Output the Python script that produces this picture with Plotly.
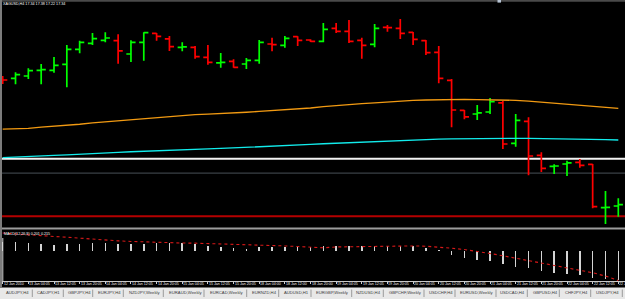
import plotly.graph_objects as go

# ---------------- data ----------------
symbol_title = "XAGUSD,H4 17.34 17.38 17.22 17.34"
macd_title = "MACD(12,26,9) 0.201 0.215"

bar_idx = list(range(49))

opens = [18.417, 18.425, 18.445, 18.493, 18.493, 18.544, 18.672, 18.723, 18.748, 18.745,
         18.632, 18.731, 18.808, 18.760, 18.689, 18.689, 18.604, 18.556, 18.570, 18.547,
         18.578, 18.717, 18.706, 18.779, 18.751, 18.740, 18.850, 18.825, 18.748, 18.714,
         18.859, 18.850, 18.816, 18.745, 18.646, 18.408, 18.153, 18.122, 18.139, 18.216,
         17.873, 18.060, 17.771, 17.677, 17.697, 17.711, 17.694, 17.326, 17.340]
highs = [18.445, 18.476, 18.510, 18.547, 18.607, 18.709, 18.745, 18.811, 18.816, 18.799,
         18.748, 18.816, 18.811, 18.785, 18.731, 18.700, 18.709, 18.641, 18.587, 18.598,
         18.751, 18.771, 18.785, 18.782, 18.757, 18.896, 18.896, 18.921, 18.771, 18.887,
         18.879, 18.930, 18.819, 18.751, 18.700, 18.420, 18.156, 18.199, 18.258, 18.233,
         18.122, 18.094, 17.796, 17.694, 17.725, 17.740, 17.697, 17.468, 17.405]
lows = [18.377, 18.374, 18.420, 18.374, 18.473, 18.349, 18.638, 18.709, 18.731, 18.550,
        18.564, 18.575, 18.745, 18.658, 18.655, 18.592, 18.541, 18.516, 18.516, 18.505,
        18.550, 18.655, 18.686, 18.700, 18.734, 18.731, 18.811, 18.726, 18.592, 18.689,
        18.822, 18.760, 18.709, 18.624, 18.383, 18.009, 18.077, 18.071, 18.122, 17.825,
        17.844, 17.601, 17.629, 17.612, 17.595, 17.666, 17.320, 17.187, 17.249]
closes = [18.411, 18.456, 18.490, 18.499, 18.536, 18.672, 18.731, 18.762, 18.768, 18.658,
          18.731, 18.814, 18.782, 18.694, 18.692, 18.609, 18.561, 18.561, 18.519, 18.578,
          18.731, 18.711, 18.765, 18.748, 18.740, 18.842, 18.825, 18.740, 18.706, 18.850,
          18.856, 18.808, 18.757, 18.643, 18.425, 18.156, 18.097, 18.131, 18.227, 17.867,
          18.068, 17.765, 17.660, 17.680, 17.706, 17.686, 17.334, 17.329, 17.351]

ma_orange = [17.993, 17.996, 18.000, 18.010, 18.017, 18.026, 18.035, 18.046, 18.055, 18.065,
             18.075, 18.083, 18.091, 18.098, 18.108, 18.117, 18.121, 18.125, 18.131, 18.137,
             18.144, 18.150, 18.157, 18.164, 18.173, 18.184, 18.194, 18.202, 18.210, 18.217,
             18.225, 18.231, 18.237, 18.241, 18.244, 18.246, 18.246, 18.245, 18.244, 18.242,
             18.238, 18.231, 18.223, 18.216, 18.207, 18.199, 18.191, 18.181, 18.170]
ma_cyan = [17.751, 17.757, 17.762, 17.767, 17.770, 17.774, 17.778, 17.782, 17.787, 17.795,
           17.801, 17.806, 17.810, 17.814, 17.819, 17.824, 17.825, 17.829, 17.833, 17.838,
           17.842, 17.847, 17.853, 17.858, 17.863, 17.869, 17.874, 17.879, 17.884, 17.889,
           17.895, 17.899, 17.904, 17.906, 17.909, 17.911, 17.913, 17.915, 17.915, 17.915,
           17.915, 17.915, 17.914, 17.913, 17.911, 17.910, 17.907, 17.904, 17.901]

level_prices = [17.741, 17.620, 17.252]
level_colors = ["#f2f2f2", "#3a4046", "#b40000"]
level_widths = [2, 1.2, 2]

macd_hist = [0.062, 0.064, 0.053, 0.048, 0.041, 0.048, 0.048, 0.057, 0.057, 0.048,
             0.048, 0.048, 0.053, 0.053, 0.053, 0.048, 0.037, 0.026, 0.019, 0.014,
             0.030, 0.030, 0.030, 0.030, 0.030, 0.035, 0.035, 0.035, 0.035, 0.035,
             0.035, 0.035, 0.035, 0.023, 0.009, -0.028, -0.046, -0.062, -0.069, -0.092,
             -0.108, -0.119, -0.138, -0.152, -0.159, -0.169, -0.183, -0.193, -0.201]
macd_signal = [0.124, 0.117, 0.112, 0.105, 0.100, 0.095, 0.088, 0.081, 0.076, 0.070,
               0.066, 0.062, 0.059, 0.057, 0.055, 0.054, 0.052, 0.050, 0.048, 0.045,
               0.041, 0.039, 0.035, 0.031, 0.024, 0.022, 0.028, 0.030, 0.032, 0.033,
               0.035, 0.035, 0.035, 0.033, 0.028, 0.019, 0.010, -0.001, -0.017, -0.033,
               -0.049, -0.065, -0.081, -0.097, -0.115, -0.132, -0.150, -0.173, -0.204]

time_label_idx = list(range(0, 49, 2))
time_labels = ["12 Jan 2010", "13 Jan 04:05", "13 Jan 12:05", "13 Jan 20:05", "14 Jan 04:05",
               "14 Jan 12:05", "14 Jan 20:05", "15 Jan 04:05", "15 Jan 12:05", "15 Jan 20:05",
               "18 Jan 04:00", "18 Jan 12:00", "18 Jan 20:00", "19 Jan 04:05", "19 Jan 12:05",
               "19 Jan 20:05", "20 Jan 04:05", "20 Jan 12:05", "20 Jan 20:05", "21 Jan 04:05",
               "21 Jan 12:05", "21 Jan 20:05", "22 Jan 04:05", "22 Jan 12:05", "22 Jan 20:05"]

tab_names = ["AUDJPY,H4", "CADJPY,H1", "GBPJPY,H4", "EURJPY,H4", "NZDJPY,Weekly",
             "EURAUD,Weekly", "EURCAD,Weekly", "EURNZD,H4", "AUDUSD,H1", "EURGBP,Weekly",
             "NZDUSD,H4", "GBPCHF,Weekly", "USDCHF,H4", "EURUSD,Weekly", "USDCAD,H4",
             "GBPUSD,H4", "CHFJPY,H4", "USDJPY,H4"]
tab_left_px = [5, 36, 66.7, 97.3, 128.3, 167.7, 209.3, 250.7, 282.7, 315,
               355, 387.7, 428.3, 459.3, 499.3, 531.7, 564, 595]
tab_sep_px = [32.3, 63.3, 92.7, 123.3, 163.3, 204, 246.7, 278.7, 311, 351.7,
              383.3, 424, 455, 496, 527.3, 559.3, 590.7, 622.3]

# ---------------- layout helpers ----------------
W, H = 625, 299
FONT = "Liberation Sans, Arial, sans-serif"


def fx(p):
    return p / W


def fy(p):
    return 1 - p / H


fig = go.Figure()

fig.add_trace(go.Scatter(x=bar_idx, y=ma_orange, mode="lines",
                         line=dict(color="#f29a12", width=1.3), hoverinfo="skip"))
fig.add_trace(go.Scatter(x=bar_idx, y=ma_cyan, mode="lines",
                         line=dict(color="#12ecec", width=1.3), hoverinfo="skip"))
fig.add_trace(go.Ohlc(x=bar_idx, open=opens, high=highs, low=lows, close=closes,
                      increasing=dict(line=dict(color="#00ff00", width=1.7)),
                      decreasing=dict(line=dict(color="#ff0000", width=1.7)),
                      tickwidth=0.36, hoverinfo="skip"))
fig.add_trace(go.Bar(x=bar_idx, y=macd_hist, yaxis="y2", width=0.12,
                     marker=dict(color="#d4d4d4", line=dict(width=0)), hoverinfo="skip"))
fig.add_trace(go.Scatter(x=bar_idx, y=macd_signal, yaxis="y2", mode="lines",
                         line=dict(color="#d81818", width=1.1, dash="dot"), hoverinfo="skip"))

shapes = []
for v, c, w in zip(level_prices, level_colors, level_widths):
    shapes.append(dict(type="line", xref="paper", x0=0, x1=1, yref="y", y0=v, y1=v,
                       line=dict(color=c, width=w), layer="below"))
# frame pieces
shapes.append(dict(type="rect", xref="paper", yref="paper", x0=0, x1=1, y0=fy(1.8), y1=1,
                   fillcolor="#4a4a4a", line=dict(width=0)))
shapes.append(dict(type="rect", xref="paper", yref="paper", x0=fx(497.5), x1=fx(501), y0=fy(2.6), y1=1,
                   fillcolor="#b8c4d4", line=dict(width=0)))
shapes.append(dict(type="rect", xref="paper", yref="paper", x0=0, x1=1, y0=fy(229.5), y1=fy(227.5),
                   fillcolor="#9c9c9c", line=dict(width=0)))
shapes.append(dict(type="line", xref="paper", yref="paper", x0=fx(2.8), x1=fx(2.8), y0=fy(281), y1=fy(238),
                   line=dict(color="#d8d8d8", width=1)))
shapes.append(dict(type="rect", xref="paper", yref="paper", x0=0, x1=1, y0=0, y1=fy(287.5),
                   fillcolor="#e8e8e8", line=dict(width=0)))
shapes.append(dict(type="rect", xref="paper", yref="paper", x0=0, x1=fx(2), y0=fy(287.5), y1=1,
                   fillcolor="#7c7c7c", line=dict(width=0)))
for s in tab_sep_px:
    shapes.append(dict(type="line", xref="paper", yref="paper", x0=fx(s), x1=fx(s),
                       y0=fy(297), y1=fy(289.5), line=dict(color="#9a9a9a", width=1)))

annotations = []
annotations.append(dict(text=symbol_title, xref="paper", yref="paper", x=fx(1.5), y=fy(4.3),
                        xanchor="left", yanchor="middle", showarrow=False, borderpad=0,
                        font=dict(family=FONT, size=3.7, color="#ffffff")))
annotations.append(dict(text=macd_title, xref="paper", yref="paper", x=fx(3.2), y=fy(233.7),
                        xanchor="left", yanchor="middle", showarrow=False, borderpad=0,
                        font=dict(family=FONT, size=3.7, color="#ffffff")))
for i, t in zip(time_label_idx, time_labels):
    annotations.append(dict(text=t, xref="x", yref="paper", x=i, y=fy(284.4),
                            xanchor="left", yanchor="middle", showarrow=False, borderpad=0,
                            font=dict(family=FONT, size=3.6, color="#f0f0f0")))
for t, p in zip(tab_names, tab_left_px):
    annotations.append(dict(text=t, xref="paper", yref="paper", x=fx(p), y=fy(292.8),
                            xanchor="left", yanchor="middle", showarrow=False, borderpad=0,
                            font=dict(family=FONT, size=4.2, color="#3a3a3a")))

fig.update_layout(
    width=W, height=H, margin=dict(l=0, r=0, t=0, b=0),
    paper_bgcolor="#000000", plot_bgcolor="#000000", showlegend=False, bargap=0,
    xaxis=dict(range=[-0.2105, 48.522], anchor="y2", showgrid=False, zeroline=False,
               rangeslider=dict(visible=False), tickvals=time_label_idx, ticks="outside",
               ticklen=2, tickcolor="#d0d0d0", tickwidth=1, showticklabels=False,
               showline=True, linecolor="#c8c8c8", linewidth=1, fixedrange=True),
    yaxis=dict(domain=[fy(228), fy(2)], range=[17.153, 19.074], showgrid=False,
               zeroline=False, showticklabels=False, fixedrange=True),
    yaxis2=dict(domain=[fy(281), fy(229.5)], range=[-0.207, 0.14835], showgrid=False,
                zeroline=False, showticklabels=False, fixedrange=True),
    shapes=shapes, annotations=annotations,
)

fig.write_html("out.html", config={"displayModeBar": False, "staticPlot": True})
